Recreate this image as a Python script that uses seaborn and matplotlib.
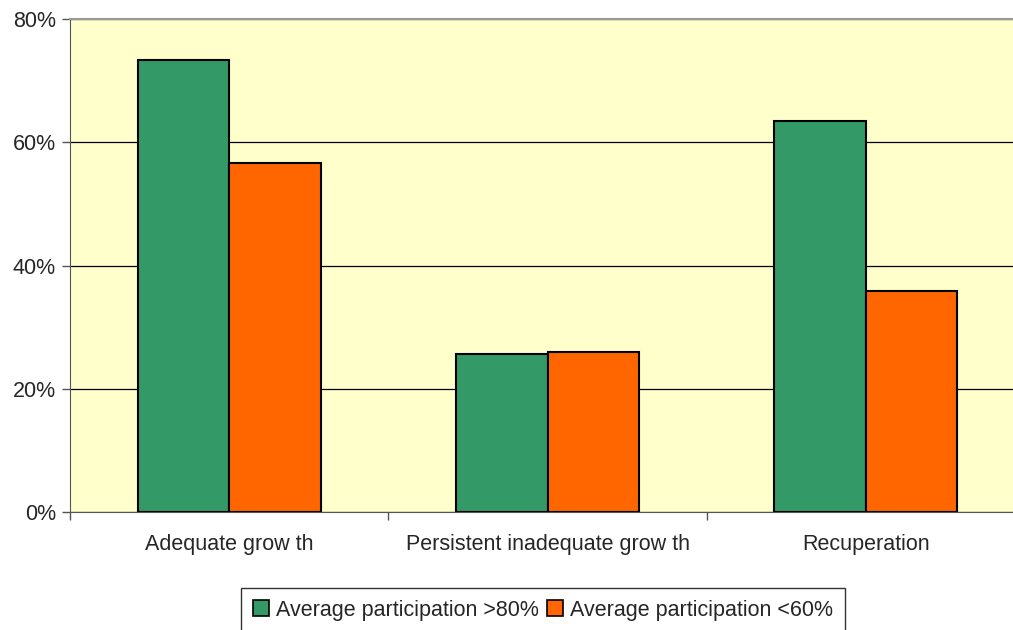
import pandas as pd
import matplotlib.pyplot as plt
import seaborn as sns
from matplotlib.ticker import PercentFormatter

categories = ['Adequate grow th', 'Persistent inadequate grow th', 'Recuperation']
series = ['Average participation >80%', 'Average participation <60%']
high_part = [73.4, 25.6, 63.5]
low_part = [56.7, 26.0, 35.9]

df = pd.DataFrame({
    'cat': categories * 2,
    'grp': [series[0]] * 3 + [series[1]] * 3,
    'val': high_part + low_part,
})

sns.set_style('white')
plt.rcParams['font.family'] = ['Liberation Sans', 'DejaVu Sans']

fig = plt.figure(figsize=(10.13, 6.3), dpi=100)
ax = fig.add_axes([0.069, 0.187, 0.943, 0.783])
ax.set_facecolor('#FFFFCC')

sns.barplot(data=df, x='cat', y='val', hue='grp', order=categories, hue_order=series,
            palette=['#339966', '#FF6600'], width=0.575, edgecolor='black', linewidth=1.5,
            saturation=1, ax=ax, zorder=3)

ax.set_ylim(0, 80)
ax.set_yticks([0, 20, 40, 60, 80])
ax.yaxis.set_major_formatter(PercentFormatter(decimals=0))
ax.set_xlim(-0.5, 2.5)
ax.yaxis.grid(True, color='black', linewidth=0.9, zorder=0)
ax.set_axisbelow(True)
ax.set_xlabel('')
ax.set_ylabel('')

# ticks at category boundaries, labels in between
ax.set_xticks([-0.5, 0.5, 1.5, 2.5], minor=False)
ax.set_xticklabels([])
ax.set_xticks([0, 1, 2], minor=True)
ax.set_xticklabels(categories, minor=True, fontsize=15.5)
ax.tick_params(axis='x', which='minor', length=0, pad=16)
ax.tick_params(axis='x', which='major', length=6, width=1, color='#555555', direction='out', bottom=True)
ax.tick_params(axis='y', length=6, width=1, color='#555555', direction='out', left=True, labelsize=15.5, pad=4)

ax.spines['top'].set_color('#999999')
ax.spines['top'].set_linewidth(1.5)
ax.spines['right'].set_visible(False)
ax.spines['left'].set_color('#555555')
ax.spines['bottom'].set_color('#555555')

ax.get_legend().remove()
handles = [plt.Rectangle((0, 0), 1, 1, facecolor=c, edgecolor='black', linewidth=1.2)
           for c in ['#339966', '#FF6600']]
leg = fig.legend(handles, series, loc='upper center', bbox_to_anchor=(0.536, 0.067), ncol=2,
                 fontsize=15.5, frameon=True, fancybox=False, edgecolor='black',
                 handlelength=0.75, handleheight=0.75, handletextpad=0.3, columnspacing=0.4,
                 borderpad=0.55, borderaxespad=0)
leg.get_frame().set_linewidth(1.0)

fig.savefig('out.png', dpi=100)
